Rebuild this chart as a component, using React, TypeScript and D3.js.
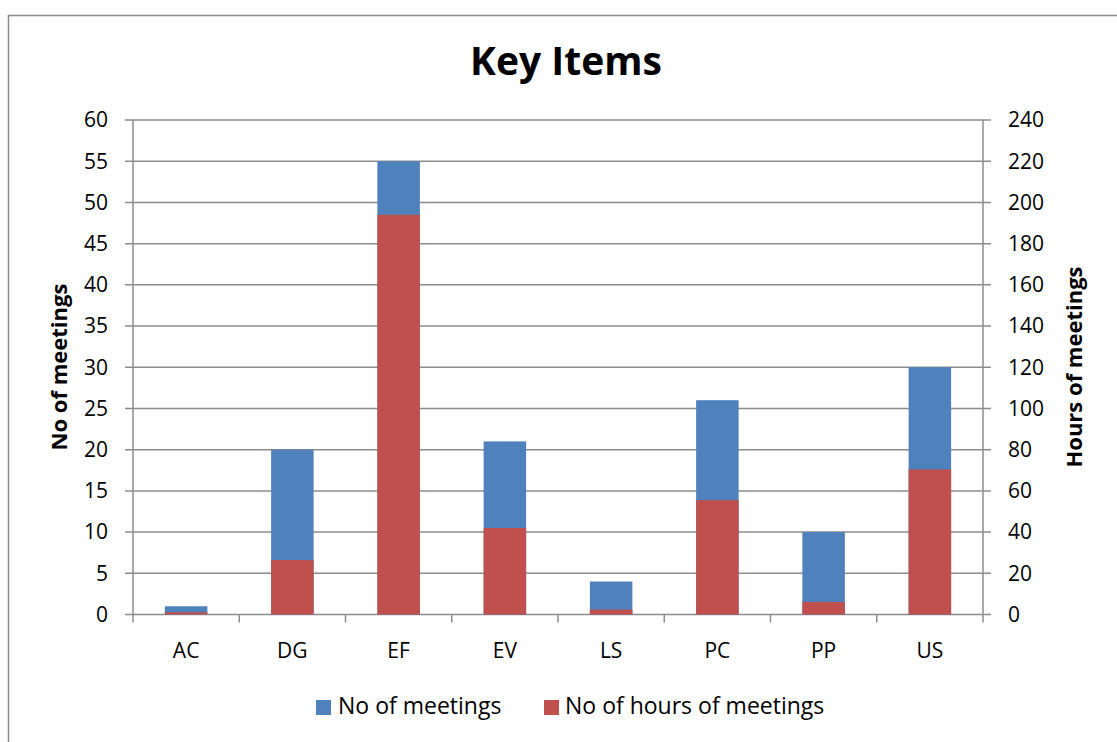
import React from "react";
import * as d3 from "d3";

const categories = ["AC", "DG", "EF", "EV", "LS", "PC", "PP", "US"];
const meetings = [1, 20, 55, 21, 4, 26, 10, 30];
const hours = [1.1, 26.4, 194, 42, 2.4, 55.5, 6.1, 70.4];
const leftTicks = [0, 5, 10, 15, 20, 25, 30, 35, 40, 45, 50, 55, 60];
const rightTicks = [0, 20, 40, 60, 80, 100, 120, 140, 160, 180, 200, 220, 240];
const seriesNames = ["No of meetings", "No of hours of meetings"];

const BLUE = "#4F81BD";
const RED = "#C0504D";
const GRID = "#8c8c8c";
const FONT = "'Open Sans', sans-serif";

export default function App() {
  const W = 1117, H = 742;
  const left = 133, right = 983, top = 120, bottom = 614.5;
  const x = d3.scaleBand<string>().domain(categories).range([left, right]).paddingInner(0.6).paddingOuter(0.3);
  const xb = d3.scaleBand<string>().domain(categories).range([left, right]);
  const y = d3.scaleLinear().domain([0, 60]).range([bottom, top]);
  const y2 = d3.scaleLinear().domain([0, 240]).range([bottom, top]);

  return (
    <svg width={W} height={H} style={{ position: "absolute", left: 0, top: 0, background: "#fff" }}>
      <rect x={8.5} y={15.5} width={W + 20} height={H + 20} fill="#fff" stroke="#8c8c8c" strokeWidth={1.5} />
      <text x={566} y={75} textAnchor="middle" fontFamily={FONT} fontWeight="bold" fontSize={39} fill="#000">Key Items</text>

      {leftTicks.map((t) => (
        <g key={"g" + t}>
          <line x1={left - 8} x2={right + 8} y1={y(t)} y2={y(t)} stroke={GRID} strokeWidth={1.5} />
          <text x={108} y={y(t)} dy="0.35em" textAnchor="end" fontFamily={FONT} fontSize={21} fill="#000">{t}</text>
        </g>
      ))}
      {rightTicks.map((t) => (
        <text key={"r" + t} x={1008} y={y2(t)} dy="0.35em" textAnchor="start" fontFamily={FONT} fontSize={21} fill="#000">{t}</text>
      ))}
      <line x1={left} x2={left} y1={top} y2={bottom} stroke={GRID} strokeWidth={1.5} />
      <line x1={right} x2={right} y1={top} y2={bottom} stroke={GRID} strokeWidth={1.5} />
      {categories.map((c) => (
        <line key={"t" + c} x1={xb(c)!} x2={xb(c)!} y1={bottom} y2={bottom + 8} stroke={GRID} strokeWidth={1.5} />
      ))}
      <line x1={right} x2={right} y1={bottom} y2={bottom + 8} stroke={GRID} strokeWidth={1.5} />

      {categories.map((c, i) => (
        <g key={"b" + c}>
          <rect x={x(c)!} width={x.bandwidth()} y={y(meetings[i])} height={bottom - y(meetings[i])} fill={BLUE} />
          <rect x={x(c)!} width={x.bandwidth()} y={y2(hours[i])} height={bottom - y2(hours[i])} fill={RED} />
        </g>
      ))}

      {categories.map((c) => (
        <text key={"l" + c} x={xb(c)! + xb.bandwidth() / 2} y={658} textAnchor="middle" fontFamily={FONT} fontSize={21} fill="#000">{c}</text>
      ))}

      <text transform={`translate(67,367) rotate(-90)`} textAnchor="middle" fontFamily={FONT} fontWeight="bold" fontSize={22} fill="#000">No of meetings</text>
      <text transform={`translate(1082,367) rotate(-90)`} textAnchor="middle" fontFamily={FONT} fontWeight="bold" fontSize={22} fill="#000">Hours of meetings</text>

      <rect x={316} y={700} width={15} height={15} fill={BLUE} />
      <text x={338} y={714} fontFamily={FONT} fontSize={23} fill="#000">{seriesNames[0]}</text>
      <rect x={544} y={700} width={15} height={15} fill={RED} />
      <text x={565} y={714} fontFamily={FONT} fontSize={23} fill="#000">{seriesNames[1]}</text>
    </svg>
  );
}
